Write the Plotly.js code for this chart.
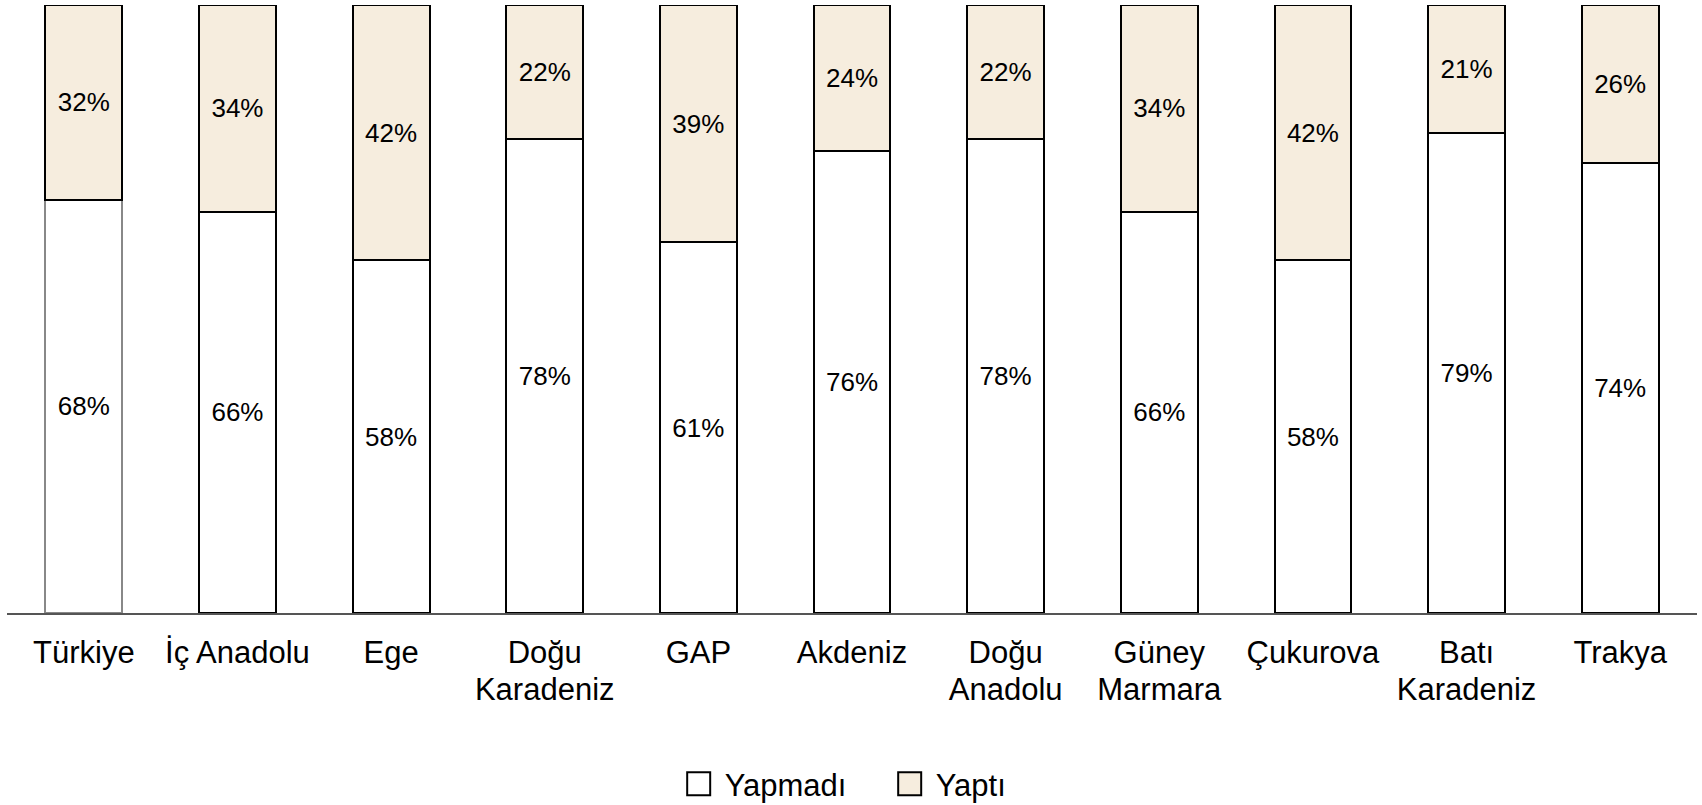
<!DOCTYPE html>
<html>
<head>
<meta charset="utf-8">
<script src="https://cdn.plot.ly/plotly-3.0.1.min.js"></script>
<style>html,body{margin:0;padding:0;background:#fff;}#chart{width:1702px;height:805px;}</style>
</head>
<body>
<div id="chart"></div>
<script>
const categories = ["Türkiye", "İç Anadolu", "Ege", "Doğu<br>Karadeniz", "GAP", "Akdeniz", "Doğu<br>Anadolu", "Güney<br>Marmara", "Çukurova", "Batı<br>Karadeniz", "Trakya"];
const yapmadi = [68, 66, 58, 78, 61, 76, 78, 66, 58, 79, 74];
const yapti = [32, 34, 42, 22, 39, 24, 22, 34, 42, 21, 26];
const seriesNames = ["Yapmadı", "Yaptı"];

const FONT = "Liberation Sans, Arial, sans-serif";
const lineColorsYapmadi = categories.map((c, i) => i === 0 ? "#888888" : "#000000");

const traces = [
  {
    type: "bar", name: seriesNames[0], x: categories, y: yapmadi,
    marker: {color: "#ffffff", line: {color: lineColorsYapmadi, width: 2}},
    texttemplate: "%{y}%", textposition: "inside", insidetextanchor: "middle", textangle: 0,
    insidetextfont: {family: FONT, size: 26, color: "#000"},
    hoverinfo: "none"
  },
  {
    type: "bar", name: seriesNames[1], x: categories, y: yapti,
    marker: {color: "#F6EDDE", line: {color: "#000000", width: 2}},
    texttemplate: "%{y}%", textposition: "inside", insidetextanchor: "middle", textangle: 0,
    insidetextfont: {family: FONT, size: 26, color: "#000"},
    hoverinfo: "none"
  }
];

const layout = {
  width: 1702, height: 805,
  margin: {l: 7, r: 5, t: 5, b: 192},
  barmode: "stack", bargap: 0.5,
  paper_bgcolor: "#fff", plot_bgcolor: "#fff",
  font: {family: FONT, color: "#000", size: 31},
  showlegend: true,
  legend: {orientation: "h", x: 0.401, xanchor: "left", yref: "container", y: 0.026, yanchor: "middle",
           traceorder: "normal", entrywidth: 166, entrywidthmode: "pixels",
           font: {family: FONT, size: 31, color: "#000"}},
  xaxis: {type: "category", showline: true, linecolor: "#555555", linewidth: 2,
          ticks: "", showgrid: false, zeroline: false, fixedrange: true,
          ticklabelstandoff: 11, automargin: false,
          tickfont: {family: FONT, size: 31, color: "#000"}},
  yaxis: {range: [0, 100], visible: false, showgrid: false, zeroline: false, fixedrange: true, automargin: false},
  hovermode: false
};

function adjust() {
  document.querySelectorAll("#chart .legend .legendpoints path").forEach(p => {
    p.setAttribute("d", "M5.5,11.5H-17.5V-11.5H5.5Z");
    p.style.strokeWidth = "2px";
    p.style.stroke = "#000";
  });
  document.querySelectorAll("#chart .xtick text tspan.line").forEach(t => {
    const dy = t.getAttribute("dy");
    if (dy && parseFloat(dy) > 0 && !t.dataset.adj) {
      t.setAttribute("dy", (parseFloat(dy) / 1.3 * 1.19) + "em");
      t.dataset.adj = "1";
    }
  });
}

Plotly.newPlot("chart", traces, layout, {displayModeBar: false, staticPlot: true}).then(gd => {
  adjust();
  gd.on("plotly_afterplot", adjust);
});
</script>
</body>
</html>
